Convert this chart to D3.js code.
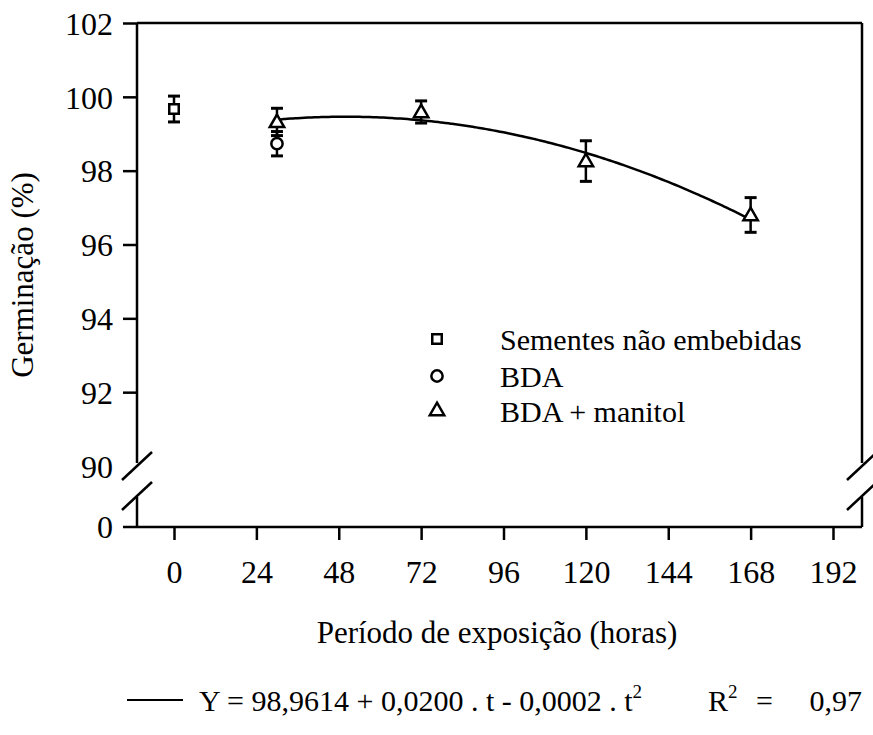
<!DOCTYPE html>
<html><head><meta charset="utf-8">
<script src="https://cdn.jsdelivr.net/npm/d3@7"></script>
<style>body{margin:0;background:#fff}svg{display:block}text{font-family:"Liberation Serif","Times New Roman",serif;fill:#000}</style>
</head><body><svg id="c" width="873" height="735"></svg>
<script>
// ---- data ----
const xTicks = [0,24,48,72,96,120,144,168,192];
const yTicks = [90,92,94,96,98,100,102];
const seriesNames = ["Sementes não embebidas","BDA","BDA + manitol"];
const seriesSymbols = ["square","circle","triangle"];
const squareT = [0];        const squareY = [99.67]; const squareErr = [0.35];
const circleT = [30];       const circleY = [98.73]; const circleErr = [0.33];
const triT = [30,72,120,168]; const triY = [99.32,99.59,98.26,96.80]; const triErr = [0.37,0.30,0.55,0.47];
const coef = [98.9614, 0.0200, -0.0002]; // Y = a + b t + c t^2
const fitRange = [30,168];
const eqText = "Y = 98,9614 + 0,0200 . t - 0,0002 . t";

// ---- layout ----
const svg = d3.select("#c");
const L = 137, R = 862, T = 23, B = 527;
const brkA = 466, brkB = 496;
const x = d3.scaleLinear().domain([0,192]).range([174,833]);
const y = d3.scaleLinear().domain([90,102]).range([brkA,T]);
const yZero = B;
const FS = 32;
const FF = "Liberation Serif, Times New Roman, serif";

// frame
const g = svg.append("g").attr("stroke","#000").attr("stroke-width",2.5).attr("fill","none");
g.append("line").attr("x1",L).attr("x2",R).attr("y1",T).attr("y2",T);
g.append("line").attr("x1",123).attr("x2",R).attr("y1",B).attr("y2",B);
[L,R].forEach(xx=>{
  g.append("line").attr("x1",xx).attr("x2",xx).attr("y1",T).attr("y2",brkA-3);
  g.append("line").attr("x1",xx).attr("x2",xx).attr("y1",brkB+1).attr("y2",B);
  g.append("line").attr("x1",xx-15).attr("x2",xx+15).attr("y1",brkA+14).attr("y2",brkA-14);
  g.append("line").attr("x1",xx-15).attr("x2",xx+15).attr("y1",brkB+14).attr("y2",brkB-14);
});

// y axis
const ya = svg.append("g").attr("transform",`translate(${L},0)`)
  .call(d3.axisLeft(y).tickValues(yTicks).tickSize(14).tickPadding(10).tickFormat(d3.format("d")));
ya.select(".domain").remove();
ya.selectAll(".tick line").attr("stroke-width",2.5).filter(d=>d===90).remove();
ya.selectAll(".tick text").attr("font-size",FS).attr("dy","0.35em");
svg.append("text").attr("x",L-24).attr("y",yZero).attr("dy","0.35em").attr("text-anchor","end").attr("font-size",FS).text("0");

// x axis
const xa = svg.append("g").attr("transform",`translate(0,${B})`)
  .call(d3.axisBottom(x).tickValues(xTicks).tickSize(13).tickPadding(20));
xa.select(".domain").remove();
xa.selectAll(".tick line").attr("stroke-width",2.5);
xa.selectAll(".tick text").attr("font-size",FS);

// axis titles
svg.append("text").attr("transform","translate(33,275) rotate(-90)").attr("text-anchor","middle").attr("font-size",31).text("Germinação (%)");
svg.append("text").attr("x",497).attr("y",643).attr("text-anchor","middle").attr("font-size",31).text("Período de exposição (horas)");

// fit curve
const fitPts = d3.range(fitRange[0], fitRange[1]+0.5, 1).map(t=>[t, coef[0]+coef[1]*t+coef[2]*t*t]);
svg.append("path").attr("d", d3.line().x(d=>x(d[0])).y(d=>y(d[1])).curve(d3.curveBasis)(fitPts))
  .attr("fill","none").attr("stroke","#000").attr("stroke-width",2.5);

// markers
const sym = {square:d3.symbolSquare, circle:d3.symbolCircle, triangle:d3.symbolTriangle};
const symSize = {square:90, circle:100, triangle:90};
function drawSeries(ts, ys, es, kind){
  ts.forEach((t,i)=>{
    const cx = x(t), cy = y(ys[i]), y1 = y(ys[i]+es[i]), y2 = y(ys[i]-es[i]);
    const eg = svg.append("g").attr("stroke","#000").attr("stroke-width",2.5);
    eg.append("line").attr("x1",cx).attr("x2",cx).attr("y1",y1).attr("y2",y2);
    eg.append("line").attr("x1",cx-6).attr("x2",cx+6).attr("y1",y1).attr("y2",y1).attr("stroke-width",3);
    eg.append("line").attr("x1",cx-6).attr("x2",cx+6).attr("y1",y2).attr("y2",y2).attr("stroke-width",3);
    svg.append("path").attr("d", d3.symbol().type(sym[kind]).size(symSize[kind])())
      .attr("transform",`translate(${cx},${cy + (kind==="triangle"?1:0)})`)
      .attr("fill","#fff").attr("stroke","#000").attr("stroke-width",2.5);
  });
}
drawSeries(squareT, squareY, squareErr, "square");
drawSeries(circleT, circleY, circleErr, "circle");
drawSeries(triT, triY, triErr, "triangle");

// legend
const legY = [339, 376, 411];
seriesNames.forEach((n,i)=>{
  svg.append("path").attr("d", d3.symbol().type(sym[seriesSymbols[i]]).size(symSize[seriesSymbols[i]])())
    .attr("transform",`translate(437,${legY[i]})`).attr("fill","#fff").attr("stroke","#000").attr("stroke-width",2.5);
  svg.append("text").attr("x",500).attr("y",legY[i]).attr("dy","0.35em").attr("font-size",30).text(n);
});

// equation
svg.append("line").attr("x1",127).attr("x2",183).attr("y1",700).attr("y2",700).attr("stroke","#000").attr("stroke-width",2);
const eq = svg.append("text").attr("x",199).attr("y",711).attr("font-size",30);
eq.append("tspan").text(eqText);
eq.append("tspan").attr("font-size",19).attr("dy",-13).text("2");
const r2 = svg.append("text").attr("x",708).attr("y",711).attr("font-size",30);
r2.append("tspan").text("R");
r2.append("tspan").attr("font-size",19).attr("dy",-13).text("2");
svg.append("text").attr("x",756).attr("y",711).attr("font-size",30).text("=");
svg.append("text").attr("x",862).attr("y",711).attr("text-anchor","end").attr("font-size",30).text("0,97");

svg.selectAll("text").attr("font-family",FF);
</script></body></html>
